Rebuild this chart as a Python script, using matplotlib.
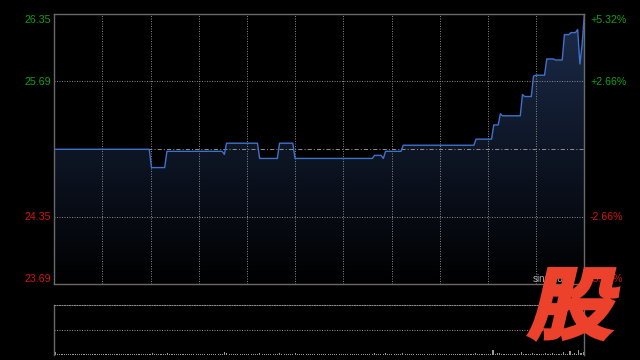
import numpy as np
import matplotlib
matplotlib.use('Agg')
import matplotlib.pyplot as plt
from matplotlib.textpath import TextPath
from matplotlib.font_manager import FontProperties
from matplotlib.patches import PathPatch, Polygon
from matplotlib.transforms import Affine2D
from matplotlib.colors import LinearSegmentedColormap

plt.rcParams['font.family'] = ['Liberation Sans', 'DejaVu Sans']

# ---- data ----
base_price = 25.02
y_min, y_max = 23.69, 26.35
left_ticks = [26.35, 25.69, 24.35, 23.69]
left_labels = ['26.35', '25.69', '24.35', '23.69']
right_labels = ['+5.32%', '+2.66%', '-2.66%', '-5.32%']
grid_prices = [25.69, 24.35]

# price levels held for a number of minutes (241 trading minutes)
levels = [25.02, 24.84, 25.00, 24.97, 25.08, 24.93, 25.08, 24.93, 24.96, 24.93,
          25.00, 25.06, 25.12, 25.26, 25.37, 25.35, 25.56, 25.54, 25.74, 25.75,
          25.91, 25.90, 26.15, 26.17, 26.20, 25.86, 26.05, 26.34]
durations = [44, 7, 26, 1, 15, 9, 7, 36, 4, 1,
             8, 33, 8, 3, 1, 9, 1, 4, 1, 5,
             4, 4, 3, 3, 1, 1, 1, 1]

volumes = [3,1,1,1,1,1,1,1,1,1,1,1,1,1,1,1,1,1,1,1,
           1,1,1,1,1,1,1,1,1,1,1,1,1,1,1,1,1,1,1,1,
           1,1,1,1,2,1,1,1,1,1,1,2,1,1,1,1,1,1,1,1,
           1,1,1,1,1,1,1,1,1,1,1,1,1,1,1,1,1,3,2,1,
           1,1,1,1,1,1,1,1,1,1,1,1,1,2,1,1,1,1,1,1,
           1,1,2,1,1,1,1,1,1,2,1,1,1,1,1,1,1,1,1,1,
           1,1,1,1,1,1,1,1,1,1,1,1,1,1,1,1,1,1,1,1,
           1,1,1,1,1,2,1,1,1,1,2,1,1,1,1,1,1,1,2,1,
           1,1,1,1,1,1,1,1,1,1,1,1,1,1,1,1,1,1,1,1,
           1,1,1,1,1,1,1,1,1,1,1,2,1,1,1,1,1,1,1,5,
           1,2,2,1,1,1,1,1,1,1,1,1,3,1,1,1,1,2,1,1,
           1,1,1,2,1,1,2,1,1,1,1,3,1,1,4,1,2,1,5,2,
           3]

prices = np.repeat(levels, durations)
minutes = np.arange(len(prices))
n_min = len(prices) - 1

W, H = 640, 360
fig = plt.figure(figsize=(6.4, 3.6), dpi=100, facecolor='black')

def fx(px):
    return px / W

def fy(py):
    return 1 - py / H

# ---- main price axes ----
ax = fig.add_axes([fx(54.3), fy(284.3), 530 / W, 270 / H])
ax.set_facecolor('black')

grad = np.linspace(0, 1, 256).reshape(-1, 1)
cmap = LinearSegmentedColormap.from_list('g', ['#000000', '#1c2c4c'])
im = ax.imshow(grad, extent=[0, n_min, y_min, y_max], origin='lower',
               aspect='auto', cmap=cmap, zorder=1, interpolation='bilinear')
verts = np.column_stack([np.r_[minutes[0], minutes, minutes[-1]],
                         np.r_[y_min, prices, y_min]])
clip = Polygon(verts, closed=True, transform=ax.transData,
               facecolor='none', edgecolor='none')
ax.add_patch(clip)
im.set_clip_path(clip)

grid_c = '#808080'
dots = (0, (1, 1.4))
for gp in grid_prices:
    ax.axhline(gp, color=grid_c, lw=0.75, ls=dots, zorder=2)
for k in range(1, 11):
    ax.axvline(n_min * k / 11, color=grid_c, lw=0.75, ls=dots, zorder=2)
ax.axhline(base_price, color='#8a8a8a', lw=0.75, ls=(0, (4, 2, 1, 2)), zorder=2)

ax.plot(minutes, prices, color='#3d72cc', lw=1.0, zorder=4)

ax.set_xlim(0, n_min)
ax.set_ylim(y_min, y_max)
ax.set_xticks([])
ax.set_yticks([])
for s in ax.spines.values():
    s.set_color('#6a6a6a')
    s.set_linewidth(1.0)

label_y = [20.3, 82.0, 217.0, 278.5]
green, red = '#13a013', '#d41414'
for i, (ll, rl, py) in enumerate(zip(left_labels, right_labels, label_y)):
    c = green if i < 2 else red
    fig.text(fx(51), fy(py), ll, color=c, fontsize=7.7, ha='right', va='center')
    fig.text(fx(590), fy(py), rl, color=c, fontsize=7.7, ha='left', va='center')

# ---- volume axes ----
vax = fig.add_axes([fx(54.3), fy(355), 530 / W, 50 / H])
vax.set_facecolor('black')
vax.bar(minutes, volumes, width=0.5, color='#9a9a9a', linewidth=0)
vax.set_xlim(-0.5, n_min + 0.5)
vax.set_ylim(0, 50)
vax.set_xticks([])
vax.set_yticks([])
for side in ['left', 'right']:
    vax.spines[side].set_color('#6a6a6a')
    vax.spines[side].set_linewidth(1.0)
vax.spines['bottom'].set_visible(False)
vax.spines['top'].set_color('#8a8a8a')
vax.spines['top'].set_linewidth(0.75)
vax.spines['top'].set_linestyle(dots)
vax.axhline(25, color='#8a8a8a', lw=0.75, ls=dots)

# ---- watermark ----
fig.text(fx(533), fy(279), 'sina.com', color='#b0b0b0', fontsize=7,
         ha='left', va='center', zorder=9)
fp = FontProperties(family='Noto Sans CJK SC', weight='heavy')
tp = TextPath((0, 0), '股', size=100, prop=fp)
sk = Affine2D().skew_deg(12, 0)
ext = sk.transform_path(tp).get_extents()
pad = 1.6
tx0, ty0, tw, th = 527 + pad, H - 341 + pad, 93 - 2 * pad, 74 - 2 * pad
t = (Affine2D().skew_deg(12, 0).translate(-ext.x0, -ext.y0)
     .scale(tw / ext.width, th / ext.height).translate(tx0, ty0)
     .scale(1 / W, 1 / H))
logo = PathPatch(tp, transform=t + fig.transFigure, facecolor='#ec412a',
                 edgecolor='#ec412a', linewidth=2.4, joinstyle='miter',
                 zorder=10)
fig.add_artist(logo)

fig.savefig('out.png', dpi=100, facecolor='black')
